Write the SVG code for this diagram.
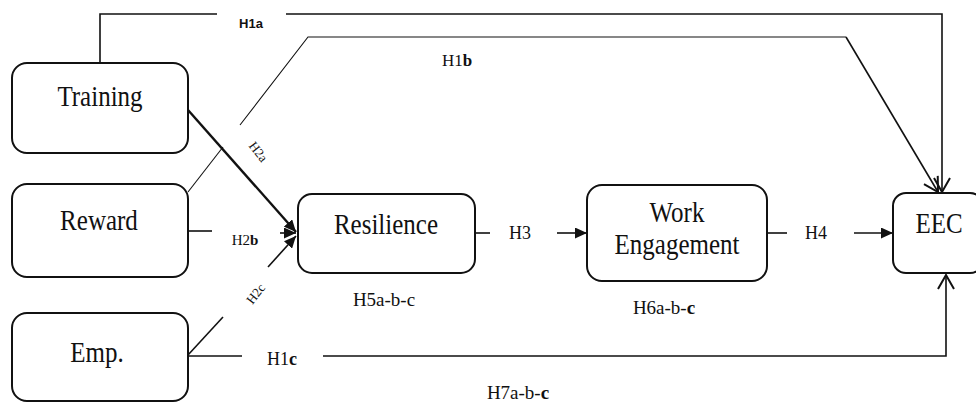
<svg xmlns="http://www.w3.org/2000/svg" width="976" height="403" viewBox="0 0 976 403">
<defs>
<style>
.box{fill:#fff;stroke:#111;stroke-width:2}
.big{font-size:25px;fill:#111;text-anchor:middle}
.lbl{fill:#111;text-anchor:middle}
.sans{font-weight:bold;font-size:13px;fill:#111;text-anchor:middle}
.ln{fill:none;stroke:#111;stroke-width:1.6}
.thin{fill:none;stroke:#111;stroke-width:1.1}
.thick{fill:none;stroke:#111;stroke-width:2.4}
</style>
<marker id="fa" markerUnits="userSpaceOnUse" markerWidth="13" markerHeight="11" refX="12" refY="5.5" orient="auto">
<path d="M0,0 L12,5.5 L0,11 z" fill="#111"/>
</marker>
<marker id="va" markerUnits="userSpaceOnUse" markerWidth="18" markerHeight="20" refX="15" refY="9" orient="auto">
<path d="M1,1 L15,9 L1,17" fill="none" stroke="#111" stroke-width="2"/>
</marker>
</defs>
<rect width="976" height="403" fill="#fff"/>
<g id="connectors" font-family="'Liberation Serif', 'DejaVu Serif', serif">
<path class="ln" d="M100,63 V14 H217"/>
<path class="ln" d="M286,14 H942 V192" marker-end="url(#va)"/>
<path class="thin" d="M188,192 L223,147"/>
<path class="thin" d="M240,125 L308,37 H846"/>
<path class="ln" d="M846,37 L938,192" marker-end="url(#va)"/>
<path class="thick" d="M188,110 L296,232" marker-end="url(#fa)"/>
<path class="ln" d="M188,231 H212"/>
<path class="ln" d="M280,233 H296" marker-end="url(#fa)"/>
<path class="ln" d="M188,355 L223,317"/>
<path class="ln" d="M268,267 L296,236" marker-end="url(#fa)"/>
<path class="ln" d="M188,356 H242"/>
<path class="ln" d="M323,356 H946 V275" marker-end="url(#va)"/>
<path class="ln" d="M475,233 H490"/>
<path class="ln" d="M557,233 H587" marker-end="url(#fa)"/>
<path class="ln" d="M767,233 H787"/>
<path class="ln" d="M854,233 H893" marker-end="url(#fa)"/>
<text class="sans" font-family="'Liberation Sans', Arial, sans-serif" x="251" y="28">H1a</text>
<text class="lbl" x="457" y="66" font-size="17">H1<tspan font-weight="bold">b</tspan></text>
<text class="lbl" font-size="13" transform="translate(258,152) rotate(52)" y="4">H2a</text>
<text class="lbl" x="245" y="245" font-size="15">H2<tspan font-weight="bold">b</tspan></text>
<text class="lbl" font-size="13" transform="translate(256,294) rotate(-52)" y="4">H2c</text>
<text class="lbl" x="282" y="365" font-size="18">H1<tspan font-weight="bold">c</tspan></text>
<text class="lbl" x="520" y="239" font-size="18">H3</text>
<text class="lbl" x="816" y="239" font-size="18">H4</text>
<text class="lbl" x="384" y="306" font-size="19">H5a-b-c</text>
<text class="lbl" x="664" y="314" font-size="19">H6a-b-<tspan font-weight="bold">c</tspan></text>
<text class="lbl" x="518" y="399" font-size="19">H7a-b-<tspan font-weight="bold">c</tspan></text>
</g>
<g id="nodes" font-family="'Liberation Serif', 'DejaVu Serif', serif">
<g id="training">
<rect class="box" x="12" y="63" width="176" height="90" rx="15"/>
<text class="big" x="100" y="0" transform="translate(0,106) scale(1,1.15)">Training</text>
</g>
<g id="reward">
<rect class="box" x="12" y="184" width="176" height="93" rx="15"/>
<text class="big" x="99" y="0" transform="translate(0,230) scale(1,1.15)">Reward</text>
</g>
<g id="emp">
<rect class="box" x="12" y="313" width="176" height="88" rx="15"/>
<text class="big" x="97" y="0" transform="translate(0,362) scale(1,1.15)">Emp.</text>
</g>
<g id="resilience">
<rect class="box" x="298" y="194" width="177" height="79" rx="14"/>
<text class="big" x="386" y="0" font-size="26" transform="translate(0,234) scale(1,1.2)">Resilience</text>
</g>
<g id="work-engagement">
<rect class="box" x="587" y="185" width="180" height="96" rx="15"/>
<text class="big" x="677" y="0" transform="translate(0,222) scale(1,1.15)">Work</text>
<text class="big" x="677" y="0" transform="translate(0,254) scale(1,1.15)">Engagement</text>
</g>
<g id="eec">
<rect class="box" x="893" y="193" width="90" height="80" rx="13"/>
<text class="big" x="939" y="0" transform="translate(0,233) scale(1,1.15)">EEC</text>
</g>
</g>
</svg>
